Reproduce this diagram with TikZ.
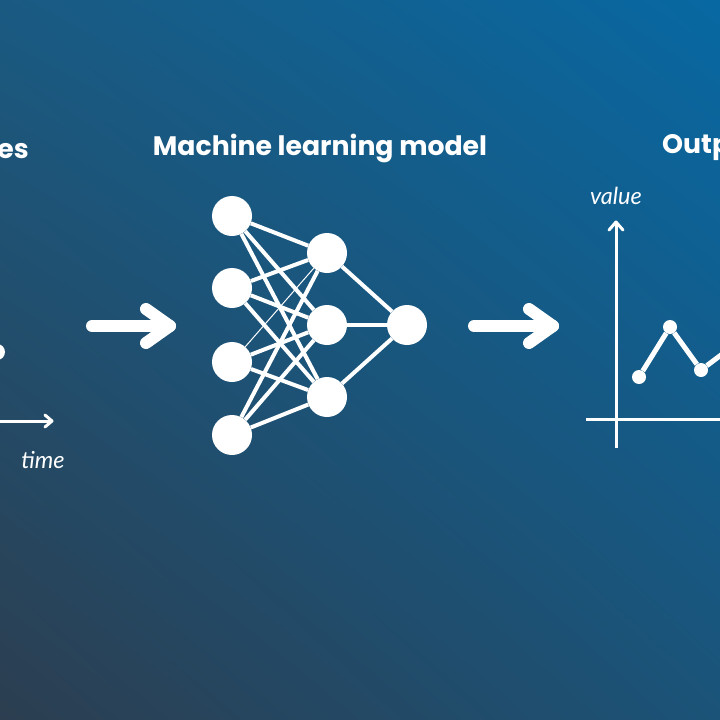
\documentclass[tikz,border=0pt]{standalone}
\usepackage{fontspec}
\usetikzlibrary{shadings}
\setmainfont{Poppins}
\newfontfamily\labelfont{Lato}
\definecolor{bgTL}{HTML}{1A5A82}
\definecolor{bgTR}{HTML}{0868A2}
\definecolor{bgBL}{HTML}{2C3E50}
\definecolor{bgBR}{HTML}{1B5378}
\begin{document}
\begin{tikzpicture}[x=1pt,y=-1pt,
  neuron/.style={circle,fill=white,draw=none,minimum size=40pt,inner sep=0pt},
  dotnode/.style={circle,fill=white,draw=none,minimum size=14pt,inner sep=0pt},
  edge/.style={white,line width=4pt},
  thinedge/.style={white,line width=1pt},
  bigarrow/.style={white,line width=12pt,line cap=round,line join=round},
  axis/.style={white,line width=3pt},
  title/.style={text=white,font=\bfseries\fontsize{26.7}{32}\selectfont,inner sep=0pt},
  lbl/.style={text=white,font=\labelfont\itshape\fontsize{23.5}{28}\selectfont,inner sep=0pt}]
\useasboundingbox (0,0) rectangle (720,720);
\shade[upper left=bgTL,upper right=bgTR,lower left=bgBL,lower right=bgBR] (0,0) rectangle (720,720);
\begin{scope}
\clip (0,0) rectangle (720,720);
% titles
\node[title,anchor=east] (t1) at (29,148) {Time series};
\node[title] (t2) at (320,148) {Machine learning model};
\node[title,anchor=west] (t3) at (662,148) {Output};
% left partial chart
\node[dotnode,minimum size=16pt] (ld) at (-3,352) {};
\coordinate (la0) at (-10,421);
\coordinate (la1) at (52,421);
\draw[axis] (la0) -- (la1);
\draw[axis,line cap=round,line join=round] (45,415) -- (la1) -- (45,427);
\node[lbl] (time) at (43,460) {time};
% arrows
\coordinate (a1s) at (92,326);
\coordinate (a1e) at (170,326);
\draw[bigarrow] (a1s) -- (a1e);
\draw[bigarrow] (146,309) -- (a1e) -- (146,343);
\coordinate (a2s) at (474,326);
\coordinate (a2e) at (553,326);
\draw[bigarrow] (a2s) -- (a2e);
\draw[bigarrow] (529,309) -- (a2e) -- (529,343);
% network
\node[neuron] (i1) at (232,216) {};
\node[neuron] (i2) at (232,288) {};
\node[neuron] (i3) at (232,362) {};
\node[neuron] (i4) at (232,435) {};
\node[neuron] (h1) at (327,253) {};
\node[neuron] (h2) at (327,325) {};
\node[neuron] (h3) at (327,397) {};
\node[neuron] (o1) at (407,325) {};
\foreach \i in {i1,i2,i4}{
  \foreach \h in {h1,h2,h3}{
    \draw[edge] (\i) -- (\h);
  }
}
\draw[thinedge] (i3) -- (h1);
\draw[edge] (i3) -- (h2);
\draw[edge] (i3) -- (h3);
\foreach \h in {h1,h2,h3}{\draw[edge] (\h) -- (o1);}
% right chart
\coordinate (vy0) at (616,448);
\coordinate (vy1) at (616,222);
\coordinate (hx0) at (586,419);
\coordinate (hx1) at (730,419);
\draw[axis] (vy0) -- (vy1);
\draw[axis,line cap=round,line join=round] (609,230) -- (vy1) -- (623,230);
\draw[axis] (hx0) -- (hx1);
\node[lbl] (value) at (616,196) {value};
\node[dotnode] (p1) at (639,377) {};
\node[dotnode] (p2) at (670,327) {};
\node[dotnode] (p3) at (701,370) {};
\coordinate (p4) at (725,352);
\draw[white,line width=5pt,line join=round] (p1) -- (p2) -- (p3) -- (p4);
\end{scope}
\end{tikzpicture}
\end{document}
